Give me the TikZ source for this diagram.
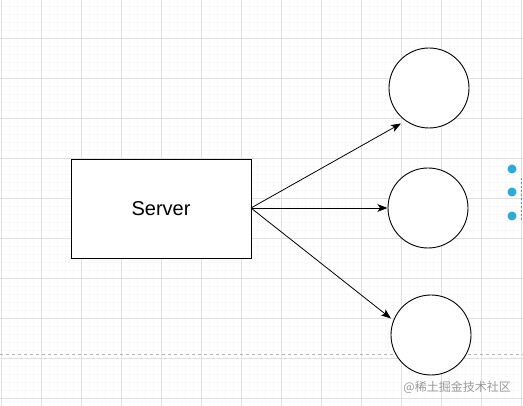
\documentclass[tikz,border=0pt]{standalone}
\usepackage{fontspec}
\setmainfont{Liberation Sans}
\newfontfamily\cjk{Noto Sans CJK SC}
\usetikzlibrary{arrows.meta}
\definecolor{dotblue}{RGB}{41,171,226}
\begin{document}
\begin{tikzpicture}[x=1pt,y=-1pt,
  box/.style={draw=black,line width=0.9pt,fill=white,minimum width=180pt,minimum height=99pt,inner sep=0pt,font=\fontsize{20}{22}\selectfont},
  circ/.style={draw=black,line width=0.9pt,fill=white,circle,minimum size=80pt,inner sep=0pt},
  conn/.style={draw=black,line width=0.8pt,-{Stealth[length=10pt,width=7.5pt,inset=2.5pt]}},
  dot/.style={circle,fill=dotblue,draw=none,minimum size=9pt,inner sep=0pt}]
\useasboundingbox (0,0) rectangle (523,406);
\fill[white] (0,0) rectangle (523,406);
\foreach \x in {1,9,...,523} \draw[black!2.5,line width=0.4pt] (\x,0) -- (\x,406);
\foreach \y in {6,14,...,406} \draw[black!2.5,line width=0.4pt] (0,\y) -- (523,\y);
\foreach \x in {1,41,...,523} \draw[black!12,line width=0.6pt] (\x,0) -- (\x,406);
\foreach \y in {38,78,...,406} \draw[black!12,line width=0.6pt] (0,\y) -- (523,\y);
\draw[black!30,dash pattern=on 3pt off 3pt,line width=0.6pt] (0,354) -- (523,354);
\node[box] (server) at (161,208.5) {Server};
\node[circ] (c1) at (429,88) {};
\node[circ] (c2) at (428,208) {};
\node[circ] (c3) at (431,335) {};
\coordinate (src) at (251,208);
\coordinate (t1) at (401,123.5);
\coordinate (t3) at (391,318.5);
\draw[conn] (src) -- (t1);
\draw[conn] (src) -- (c2);
\draw[conn] (src) -- (t3);
\node[dot] (d1) at (512,169) {};
\node[dot] (d2) at (512,192) {};
\node[dot] (d3) at (512,216) {};
\draw[dotblue,dash pattern=on 2pt off 2pt,line width=0.7pt] (521,178) -- (521,222);
\node[anchor=east,text=black!40,font=\cjk\fontsize{12}{14}\selectfont,inner sep=0pt] (wm) at (511,387) {@稀土掘金技术社区};
\end{tikzpicture}
\end{document}
